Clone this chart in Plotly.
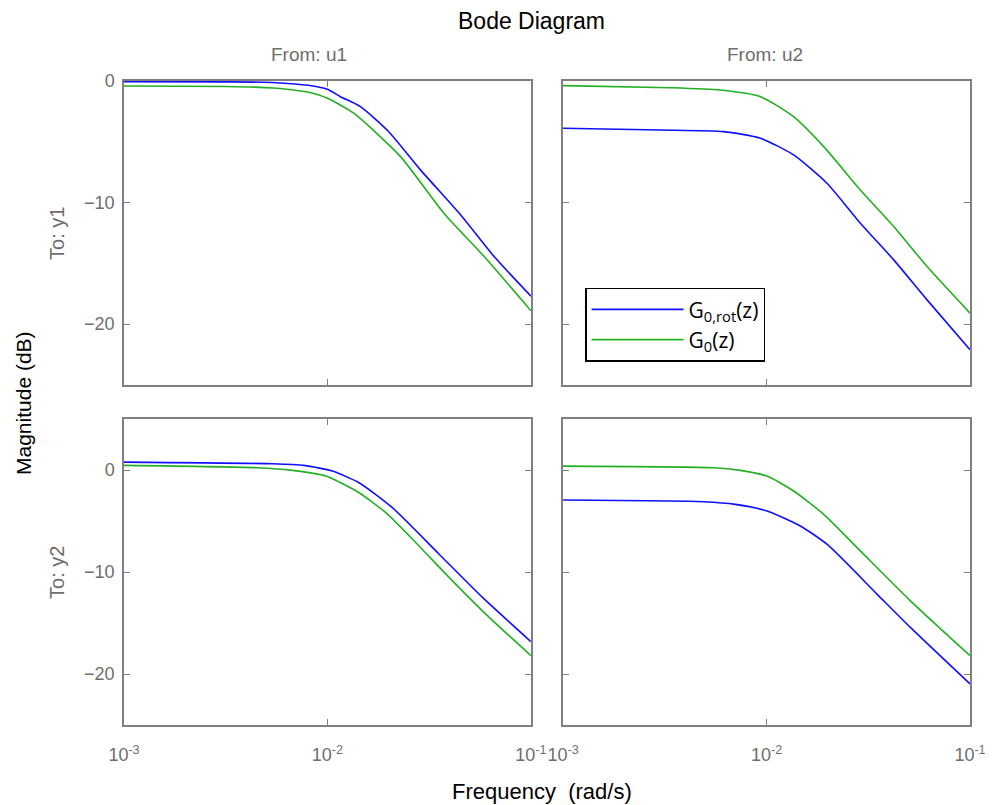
import plotly.graph_objects as go

# ---------- data (log10 of frequency in rad/s, magnitude in dB) ----------
# From u1 -> To y1
tl_blue_logw = [-3.0, -2.5, -2.315, -2.159, -2.05, -2.0, -1.936, -1.838, -1.699, -1.543, -1.346, -1.183, -1.0]
tl_blue_db   = [-0.05, -0.07, -0.1, -0.25, -0.47, -0.68, -1.29, -2.11, -4.17, -7.31, -11.0, -14.4, -17.7]
tl_green_logw = [-3.0, -2.5, -2.266, -2.167, -2.093, -2.0, -1.871, -1.641, -1.428, -1.232, -1.0]
tl_green_db   = [-0.41, -0.45, -0.57, -0.74, -0.93, -1.42, -2.65, -6.22, -10.87, -14.4, -18.9]

# From u2 -> To y1
tr_blue_logw = [-3.0, -2.522, -2.211, -2.030, -1.867, -1.703, -1.539, -1.375, -1.211, -1.0]
tr_blue_db   = [-3.89, -4.03, -4.16, -4.71, -6.08, -8.41, -11.7, -14.71, -18.0, -22.1]
tr_green_logw = [-3.0, -2.473, -2.227, -2.030, -1.867, -1.719, -1.539, -1.375, -1.211, -1.0]
tr_green_db   = [-0.38, -0.55, -0.74, -1.29, -2.93, -5.4, -8.96, -11.97, -15.26, -19.09]

# From u1 -> To y2
bl_blue_logw = [-3.0, -2.271, -2.115, -1.976, -1.845, -1.681, -1.451, -1.238, -1.0]
bl_blue_db   = [0.78, 0.62, 0.46, -0.1, -1.24, -3.69, -8.25, -12.49, -16.83]
bl_green_logw = [-3.0, -2.345, -2.173, -2.008, -1.845, -1.713, -1.55, -1.418, -1.222, -1.0]
bl_green_db   = [0.46, 0.23, -0.03, -0.59, -2.22, -4.18, -7.44, -10.2, -14.12, -18.2]

# From u2 -> To y2
br_blue_logw = [-3.0, -2.309, -2.153, -1.998, -1.834, -1.703, -1.457, -1.293, -1.0]
br_blue_db   = [-2.94, -3.1, -3.36, -4.01, -5.48, -7.27, -12.16, -15.43, -20.97]
br_green_logw = [-3.0, -2.26, -2.129, -1.998, -1.867, -1.719, -1.539, -1.293, -1.0]
br_green_db   = [0.39, 0.23, -0.03, -0.59, -2.05, -4.34, -7.93, -12.82, -18.2]

x_tick_vals = [0.001, 0.01, 0.1]
x_tick_text = ["10<sup>-3</sup>", "10<sup>-2</sup>", "10<sup>-1</sup>"]
y_tick_vals = [-20, -10, 0]
input_labels = ["From: u1", "From: u2"]
output_labels = ["To: y1", "To: y2"]
series_names = ["G<sub>0,rot</sub>(z)", "G<sub>0</sub>(z)"]

BLUE = "#1010ff"
GREEN = "#22b022"
AXC = "#808080"
TXT = "#6e6e6e"
FONT = "Liberation Sans"

panels = [
    ("x", "y", tl_blue_logw, tl_blue_db, tl_green_logw, tl_green_db, False),
    ("x2", "y2", tr_blue_logw, tr_blue_db, tr_green_logw, tr_green_db, True),
    ("x3", "y3", bl_blue_logw, bl_blue_db, bl_green_logw, bl_green_db, False),
    ("x4", "y4", br_blue_logw, br_blue_db, br_green_logw, br_green_db, False),
]

fig = go.Figure()
for xa, ya, bw, bd, gw, gd, leg in panels:
    fig.add_trace(go.Scatter(x=[10 ** v for v in bw], y=bd, mode="lines", name=series_names[0],
                             line=dict(color=BLUE, width=1.6, shape="spline", smoothing=0.6),
                             xaxis=xa, yaxis=ya, showlegend=leg))
    fig.add_trace(go.Scatter(x=[10 ** v for v in gw], y=gd, mode="lines", name=series_names[1],
                             line=dict(color=GREEN, width=1.6, shape="spline", smoothing=0.6),
                             xaxis=xa, yaxis=ya, showlegend=leg))

def xax(domain, anchor, labels):
    return dict(type="log", range=[-3, -1], domain=domain, anchor=anchor,
                showline=True, linecolor=AXC, linewidth=1.5, mirror="allticks",
                ticks="inside", ticklen=6, tickcolor=AXC, tickwidth=1.2,
                tickvals=x_tick_vals, ticktext=x_tick_text, showticklabels=labels,
                ticklabelstandoff=13,
                showgrid=False, zeroline=False,
                tickfont=dict(family=FONT, size=18, color=TXT))

def yax(domain, anchor, rng, labels):
    return dict(range=rng, domain=domain, anchor=anchor,
                showline=True, linecolor=AXC, linewidth=1.5, mirror="allticks",
                ticks="inside", ticklen=6, tickcolor=AXC, tickwidth=1.2,
                tickvals=y_tick_vals, showticklabels=labels,
                ticklabelstandoff=4,
                showgrid=False, zeroline=False,
                tickfont=dict(family=FONT, size=18, color=TXT))

xl = [0.0, 0.481]
xr = [0.519, 1.0]
yt = [0.528, 1.0]
yb = [0.0, 0.475]

fig.update_layout(
    width=993, height=805,
    margin=dict(l=116, r=31, t=73, b=88),
    paper_bgcolor="white", plot_bgcolor="white",
    font=dict(family=FONT, size=18, color=TXT),
    xaxis=xax(xl, "y", False),
    yaxis=yax(yt, "x", [-25, 0], True),
    xaxis2=xax(xr, "y2", False),
    yaxis2=yax(yt, "x2", [-25, 0], False),
    xaxis3=xax(xl, "y3", True),
    yaxis3=yax(yb, "x3", [-25, 5], True),
    xaxis4=xax(xr, "y4", True),
    yaxis4=yax(yb, "x4", [-25, 5], False),
    legend=dict(x=0.545, y=0.679, xanchor="left", yanchor="top",
                bgcolor="white", bordercolor="black", borderwidth=1.5,
                font=dict(family="Open Sans", size=21, color="black"),
                itemwidth=92),
    showlegend=True,
)

ann = [
    dict(text="Bode Diagram", x=0.4817, y=1.0932, font=dict(size=23, color="black")),
    dict(text=input_labels[0], x=0.2187, y=1.0419, font=dict(size=19, color=TXT)),
    dict(text=input_labels[1], x=0.7577, y=1.0419, font=dict(size=19, color=TXT)),
    dict(text=output_labels[0], x=-0.0792, y=0.764, textangle=-90, font=dict(size=20, color=TXT)),
    dict(text=output_labels[1], x=-0.0792, y=0.2376, textangle=-90, font=dict(size=20, color=TXT)),
    dict(text="Magnitude (dB)", x=-0.1194, y=0.5, textangle=-90, font=dict(size=21, color="black")),
    dict(text="Frequency&nbsp; (rad/s)", x=0.494, y=-0.1025, font=dict(size=22, color="black")),
]
for a in ann:
    a.update(xref="paper", yref="paper", showarrow=False, xanchor="center", yanchor="middle")
    a["font"]["family"] = FONT
fig.update_layout(annotations=ann)

fig.write_html("out.html")
